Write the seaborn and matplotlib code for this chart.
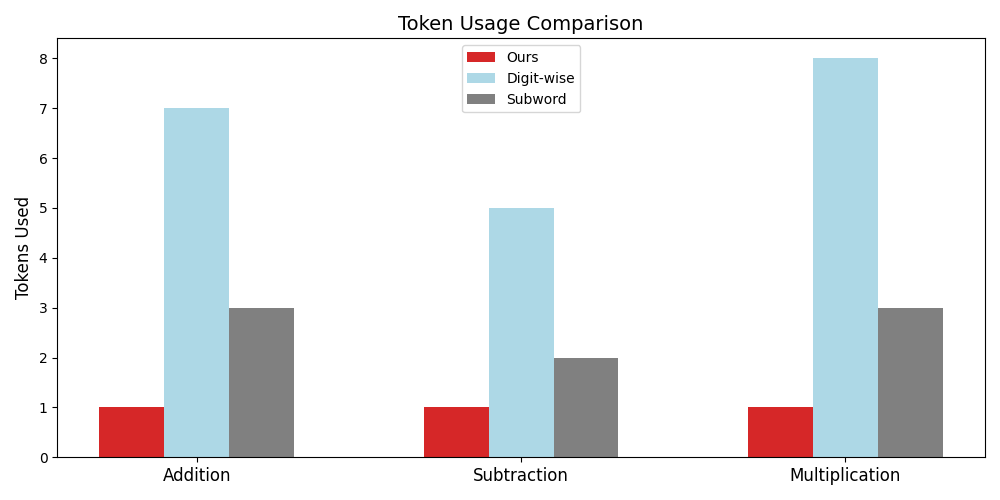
import pandas as pd
import matplotlib
matplotlib.use("Agg")
import matplotlib.pyplot as plt
import seaborn as sns

# Token counts per task
tasks = ["Addition", "Subtraction", "Multiplication"]
methods = ["Ours", "Digit-wise", "Subword"]
ours = [1, 1, 1]
digit_wise = [7, 5, 8]
subword = [3, 2, 3]
colors = ["#d62728", "lightblue", "gray"]

data = pd.DataFrame({
    "Task": tasks * 3,
    "Method": [m for m in methods for _ in tasks],
    "Tokens": ours + digit_wise + subword,
})

fig, ax = plt.subplots(figsize=(10, 5))
sns.barplot(data=data, x="Task", y="Tokens", hue="Method", palette=colors,
            width=0.6, gap=0, saturation=1, ax=ax)

ax.set_xlim(-0.43, 2.43)
ax.set_title("Token Usage Comparison", fontsize=14)
ax.set_xlabel("")
ax.set_ylabel("Tokens Used", fontsize=12)
ax.tick_params(axis="x", labelsize=12)
ax.legend(loc="upper center")

plt.tight_layout()
plt.savefig("out.png", dpi=100)
